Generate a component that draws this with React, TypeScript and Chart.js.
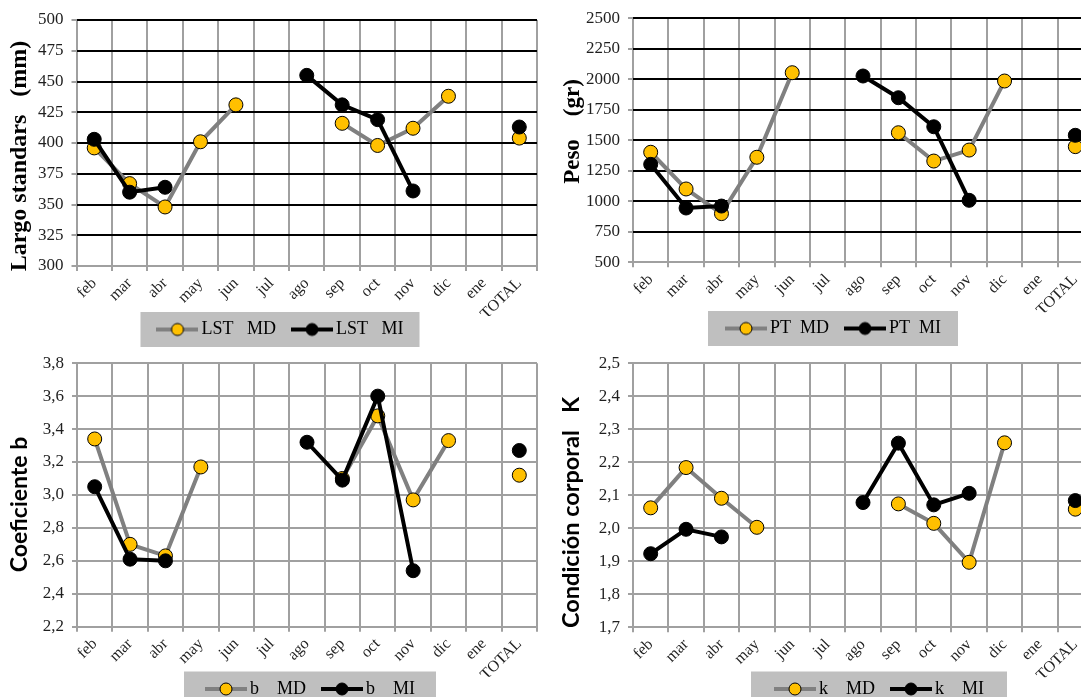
import React, { useEffect, useRef } from 'react';
import { Chart, registerables } from 'chart.js';

Chart.register(...registerables);

// ---------- DATA ----------
const categories = ['feb', 'mar', 'abr', 'may', 'jun', 'jul', 'ago', 'sep', 'oct', 'nov', 'dic', 'ene', 'TOTAL'];

const lstMD = [396, 367, 348, 401, 431, null, null, 416, 398, 412, 438, null, 404];
const lstMI = [403, 360, 364, null, null, null, 455, 431, 419, 361, null, null, 413];

const ptMD = [1402, 1101, 899, 1361, 2054, null, null, 1562, 1330, 1420, 1986, null, 1448];
const ptMI = [1303, 945, 961, null, null, null, 2027, 1849, 1611, 1008, null, null, 1541];

const bMD = [3.34, 2.70, 2.63, 3.17, null, null, null, 3.10, 3.48, 2.97, 3.33, null, 3.12];
const bMI = [3.05, 2.61, 2.60, null, null, null, 3.32, 3.09, 3.60, 2.54, null, null, 3.27];

const kMD = [2.062, 2.184, 2.091, 2.003, null, null, null, 2.074, 2.015, 1.897, 2.259, null, 2.058];
const kMI = [1.923, 1.997, 1.974, null, null, null, 2.078, 2.258, 2.071, 2.106, null, null, 2.084];

const lstAxis = [300, 500, 25];
const ptAxis = [500, 2500, 250];
const bAxis = [2.2, 3.8, 0.2];
const kAxis = [1.7, 2.5, 0.1];

const lstLabels = ['LST   MD', 'LST   MI'];
const ptLabels = ['PT  MD', 'PT  MI'];
const bLabels = ['b    MD', 'b    MI'];
const kLabels = ['k    MD', 'k    MI'];

const lstTitle = 'Largo standars   (mm)';
const ptTitle = 'Peso    (gr)';
const bTitle = 'Coeficiente b';
const kTitle = 'Condición corporal   K';

// ---------- STYLE ----------
const SERIF = "'Liberation Serif', 'Times New Roman', serif";
const SANS = "Lato, 'Noto Sans', sans-serif";
const GRAY_GRID = '#a0a0a0';
const YELLOW = '#FFC000';
const LINE_GRAY = '#808080';
const TICK_COLOR = '#1f1f1f';
const LEGEND_H = 49; // itemHeight(18) + padding(21) + 10
const X_H = 50;

function makeLegendImage(lineColor: string, fill: string) {
  const c = document.createElement('canvas');
  c.width = 42;
  c.height = 16;
  const g = c.getContext('2d')!;
  g.strokeStyle = lineColor;
  g.lineWidth = 4;
  g.beginPath();
  g.moveTo(0, 8);
  g.lineTo(42, 8);
  g.stroke();
  g.beginPath();
  g.arc(21, 8, 6, 0, Math.PI * 2);
  g.fillStyle = fill;
  g.fill();
  g.lineWidth = 1;
  g.strokeStyle = '#000';
  g.stroke();
  return c;
}

const legendBoxPlugin = {
  id: 'legendBox',
  afterLayout(chart: any, _args: any, opts: any) {
    const lg = chart.legend;
    if (!lg) return;
    const dx = opts.centerX - (lg.left + lg.right) / 2;
    lg.left += dx;
    lg.right += dx;
    const h = lg.bottom - lg.top;
    lg.top = opts.rowY - 30;
    lg.bottom = lg.top + h;
  },
  beforeDraw(chart: any, _args: any, opts: any) {
    const lg = chart.legend;
    if (!lg || !lg.lineWidths) return;
    const pad = 21;
    const rowW = lg.lineWidths[0] - pad;
    const cx = (lg.left + lg.right) / 2;
    const x0 = cx - rowW / 2 - 6;
    const x1 = cx + rowW / 2;
    const cy = lg.top + pad + 9;
    const ctx = chart.ctx;
    ctx.save();
    ctx.fillStyle = '#BFBFBF';
    ctx.fillRect(x0 - opts.padX, cy - 17.5, x1 - x0 + 2 * opts.padX, 35);
    ctx.restore();
  },
};

const axisTitlePlugin = {
  id: 'axisTitle',
  afterDraw(chart: any, _args: any, opts: any) {
    const ctx = chart.ctx;
    ctx.save();
    ctx.translate(opts.x, opts.y);
    ctx.rotate(-Math.PI / 2);
    ctx.font = opts.font;
    ctx.fillStyle = '#000';
    ctx.textAlign = 'center';
    ctx.textBaseline = 'middle';
    ctx.fillText(opts.text, 0, 0);
    ctx.restore();
  },
};

type Panel = {
  left: number; top: number; width: number;
  yWidth: number; plotTop: number; plotBottom: number; padRight: number;
  title: string; titleFont: string; titleX: number; titleY: number;
  legendX: number; legendY: number; legendPad: number;
  labels: string[]; md: (number | null)[]; mi: (number | null)[];
  axis: number[]; decimals: number; hColor: string;
};

const panels: Panel[] = [
  {
    left: 0, top: 0, width: 545, yWidth: 76.5, plotTop: 20, plotBottom: 266, padRight: 3,
    title: lstTitle, titleFont: `bold 24px ${SERIF}`, titleX: 20, titleY: 156,
    legendX: 283, legendY: 329.5, legendPad: 16,
    labels: lstLabels, md: lstMD, mi: lstMI, axis: lstAxis, decimals: 0, hColor: '#000',
  },
  {
    left: 545, top: 0, width: 560, yWidth: 88, plotTop: 18.3, plotBottom: 262.3, padRight: 12,
    title: ptTitle, titleFont: `bold 23px ${SERIF}`, titleX: 28, titleY: 131.5,
    legendX: 291, legendY: 328.5, legendPad: 17,
    labels: ptLabels, md: ptMD, mi: ptMI, axis: ptAxis, decimals: 0, hColor: '#000',
  },
  {
    left: 0, top: 345, width: 545, yWidth: 77, plotTop: 17.7, plotBottom: 281.7, padRight: 2,
    title: bTitle, titleFont: `bold 23px ${SANS}`, titleX: 20, titleY: 159.5,
    legendX: 313, legendY: 344, legendPad: 21,
    labels: bLabels, md: bMD, mi: bMI, axis: bAxis, decimals: 1, hColor: GRAY_GRID,
  },
  {
    left: 545, top: 345, width: 560, yWidth: 88, plotTop: 18.3, plotBottom: 282.3, padRight: 12,
    title: kTitle, titleFont: `bold 23.5px ${SANS}`, titleX: 26, titleY: 167.5,
    legendX: 337, legendY: 344, legendPad: 23,
    labels: kLabels, md: kMD, mi: kMI, axis: kAxis, decimals: 1, hColor: GRAY_GRID,
  },
];

function ChartPanel({ p }: { p: Panel }) {
  const ref = useRef<HTMLCanvasElement | null>(null);
  const height = Math.ceil(p.plotBottom + X_H + LEGEND_H + 2);
  const padBottom = height - p.plotBottom - X_H - LEGEND_H;
  useEffect(() => {
    if (!ref.current) return;
    const mdImg = makeLegendImage(LINE_GRAY, YELLOW);
    const miImg = makeLegendImage('#000', '#000');
    const [min, max, step] = p.axis;
    const chart = new Chart(ref.current, {
      type: 'line',
      data: {
        labels: categories,
        datasets: [
          {
            label: p.labels[0], data: p.md as any,
            borderColor: LINE_GRAY, borderWidth: 4,
            pointBackgroundColor: YELLOW, pointBorderColor: '#000', pointBorderWidth: 1,
            pointRadius: 7, pointHoverRadius: 7, spanGaps: false, tension: 0, order: 1,
          },
          {
            label: p.labels[1], data: p.mi as any,
            borderColor: '#000', borderWidth: 4,
            pointBackgroundColor: '#000', pointBorderColor: '#000', pointBorderWidth: 1,
            pointRadius: 7, pointHoverRadius: 7, spanGaps: false, tension: 0, order: 0,
          },
        ],
      },
      options: {
        responsive: false,
        animation: false,
        events: [],
        layout: { padding: { left: 0, top: p.plotTop, right: p.padRight, bottom: padBottom } },
        plugins: {
          tooltip: { enabled: false },
          legend: {
            position: 'bottom',
            labels: {
              usePointStyle: true,
              pointStyleWidth: 30,
              padding: 21,
              color: '#000',
              font: { family: SERIF, size: 18 },
              generateLabels: (ch: any) =>
                ch.data.datasets.map((ds: any, i: number) => ({
                  text: ds.label,
                  pointStyle: i === 0 ? mdImg : miImg,
                  fillStyle: 'transparent',
                  strokeStyle: 'transparent',
                  lineWidth: 0,
                  hidden: false,
                  datasetIndex: i,
                  fontColor: '#000',
                })),
            },
          },
          legendBox: { centerX: p.legendX, rowY: p.legendY, padX: p.legendPad },
          axisTitle: { text: p.title, font: p.titleFont, x: p.titleX, y: p.titleY },
        } as any,
        scales: {
          x: {
            offset: true,
            grid: { offset: true, color: GRAY_GRID, lineWidth: 2, tickLength: 5, tickColor: GRAY_GRID },
            border: { display: false },
            ticks: {
              autoSkip: false, maxRotation: 45, minRotation: 45, padding: 3,
              color: TICK_COLOR, font: { family: SERIF, size: 16 },
            },
            afterFit: (s: any) => { s.height = X_H; },
          },
          y: {
            min, max,
            ticks: {
              stepSize: step, padding: 8, color: TICK_COLOR,
              font: { family: SERIF, size: 17 },
              callback: (v: any) => Number(v).toFixed(p.decimals).replace('.', ','),
            },
            grid: {
              color: (c: any) => (c.tick && Math.abs(c.tick.value - min) < 1e-9 ? GRAY_GRID : p.hColor),
              lineWidth: 2, tickLength: 5, tickColor: GRAY_GRID,
            },
            border: { display: false },
            afterFit: (s: any) => { s.width = p.yWidth; },
          },
        },
      },
      plugins: [legendBoxPlugin as any, axisTitlePlugin as any],
    });
    return () => chart.destroy();
  }, [p]);
  return (
    <canvas
      ref={ref}
      width={p.width}
      height={height}
      style={{ position: 'absolute', left: p.left, top: p.top, width: p.width, height }}
    />
  );
}

export default function App() {
  return (
    <div
      style={{
        position: 'absolute', left: 0, top: 0, width: 1081, height: 697,
        overflow: 'hidden', background: '#fff',
      }}
    >
      {panels.map((p, i) => (
        <ChartPanel key={i} p={p} />
      ))}
    </div>
  );
}
